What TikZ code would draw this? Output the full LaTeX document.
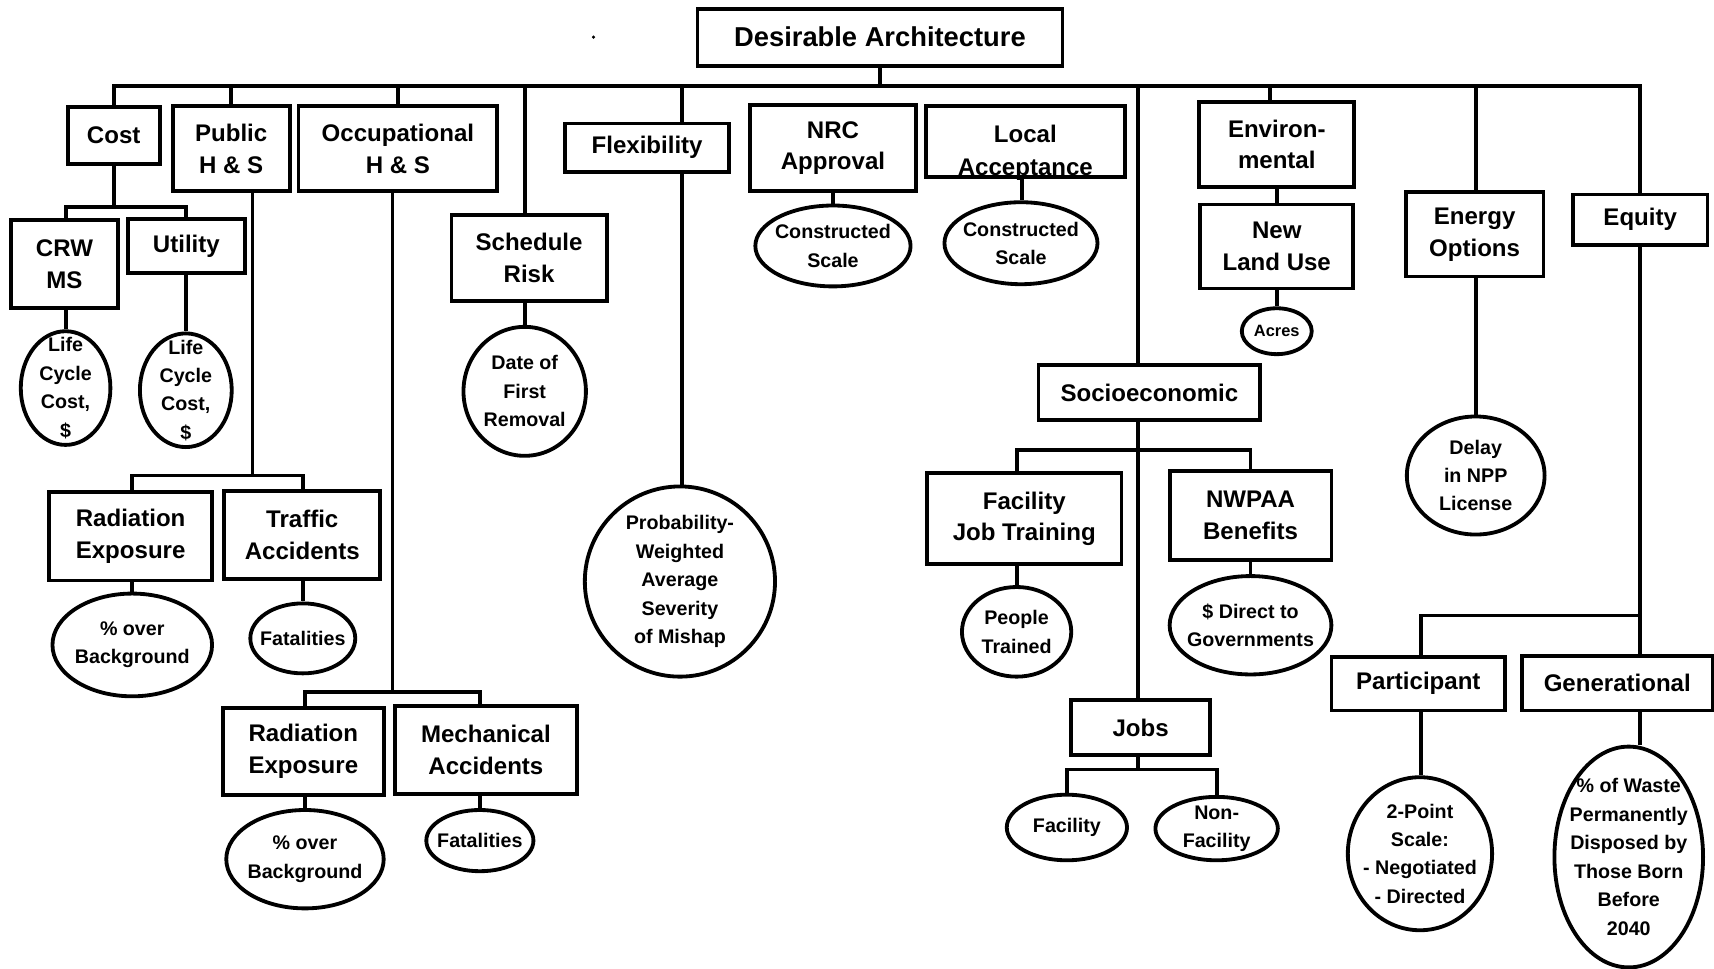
\documentclass[tikz,border=0pt]{standalone}
\usepackage{fontspec}
\setmainfont{Liberation Sans}
\usetikzlibrary{shapes.geometric}
\begin{document}
\begin{tikzpicture}[x=1pt,y=-1pt,
  ln/.style={line width=3.5pt},
  bx/.style={draw, line width=3.5pt, rectangle, inner sep=0pt, align=center, font=\bfseries\fontsize{22}{29}\selectfont},
  el/.style={draw, line width=3.5pt, ellipse, inner sep=0pt},
  et/.style={inner sep=0pt, align=center, font=\bfseries\fontsize{18}{26}\selectfont},
  txt/.style={inner sep=0pt, align=center, font=\bfseries\fontsize{22}{30}\selectfont}
]
\useasboundingbox (0,0) rectangle (1568,886);
\fill (543,34) circle (1.6);
% root
\node[bx, minimum width=334, minimum height=52, font=\bfseries\fontsize{25}{30}\selectfont] (root) at (805,34) {Desirable Architecture};
% level 1
\node[bx, minimum width=84, minimum height=52] (cost) at (104,124) {Cost};
\node[bx, minimum width=107, minimum height=78] (pub) at (211.5,136) {Public\\H \& S};
\node[bx, minimum width=182, minimum height=78] (occ) at (364,136) {Occupational\\H \& S};
\node[bx, minimum width=142, minimum height=78] (sched) at (484,236) {Schedule\\Risk};
\node[bx, minimum width=150, minimum height=44] (flex) at (592,135) {Flexibility};
\node[bx, minimum width=152, minimum height=79] (nrc) at (762,135.5) {NRC\\Approval};
\node[txt] (loctxt) at (938,140) {Local\\Acceptance};
\node[bx, minimum width=182, minimum height=65] (loc) at (938,129.5) {};
\node[bx, minimum width=142, minimum height=78] (env) at (1168,132) {Environ-\\mental};
\node[bx, minimum width=140, minimum height=77] (land) at (1168,225.5) {New\\Land Use};
\node[bx, minimum width=126, minimum height=77] (energy) at (1349,214.5) {Energy\\Options};
\node[bx, minimum width=123, minimum height=46] (equity) at (1500.5,201) {Equity};
\node[bx, minimum width=203, minimum height=50] (socio) at (1051.5,359) {Socioeconomic};
% cost subtree
\node[bx, minimum width=98, minimum height=81] (crw) at (59,241.5) {CRW\\MS};
\node[bx, minimum width=107, minimum height=50] (util) at (170.5,225) {Utility};
\node[el, minimum width=82, minimum height=104, label={[et]center:{Life\\Cycle\\Cost,\\\$}}] (lcc1) at (60,355) {};
\node[el, minimum width=84, minimum height=104, label={[et]center:{Life\\Cycle\\Cost,\\\$}}] (lcc2) at (170,357) {};
% public subtree
\node[bx, minimum width=149, minimum height=81] (rad1) at (119.5,490.5) {Radiation\\Exposure};
\node[bx, minimum width=143, minimum height=81] (traf) at (276.5,489.5) {Traffic\\Accidents};
\node[el, minimum width=146, minimum height=94, label={[et]center:{\% over\\Background}}] (bg1) at (121,590) {};
\node[el, minimum width=96, minimum height=64, label={[et]center:{Fatalities}}] (fat1) at (277,584) {};
% occupational subtree
\node[bx, minimum width=147, minimum height=79] (rad2) at (277.5,687.5) {Radiation\\Exposure};
\node[bx, minimum width=167, minimum height=80] (mech) at (444.5,686) {Mechanical\\Accidents};
\node[el, minimum width=144, minimum height=90, label={[et]center:{\% over\\Background}}] (bg2) at (279,786) {};
\node[el, minimum width=98, minimum height=56, label={[et]center:{Fatalities}}] (fat2) at (439,769) {};
% schedule, flexibility
\node[el, minimum width=112, minimum height=118, label={[et]center:{Date of\\First\\Removal}}] (date) at (480,358) {};
\node[el, minimum width=174, minimum height=174, label={[et]center:{Probability-\\Weighted\\Average\\Severity\\of Mishap}}] (prob) at (622,532) {};
% NRC, local
\node[el, minimum width=142, minimum height=74, label={[et]center:{Constructed\\Scale}}] (nrcS) at (762,225) {};
\node[el, minimum width=140, minimum height=75, label={[et]center:{Constructed\\Scale}}] (locS) at (934,222.5) {};
% environmental
\node[el, minimum width=64, minimum height=42, label={[et, font=\bfseries\fontsize{15}{20}\selectfont]center:{Acres}}] (acres) at (1168,303) {};
% energy
\node[el, minimum width=126, minimum height=108, label={[et]center:{Delay\\in NPP\\License}}] (delay) at (1350,435) {};
% socioeconomic subtree
\node[bx, minimum width=178, minimum height=83] (fjt) at (937,474.5) {Facility\\Job Training};
\node[bx, minimum width=148, minimum height=81] (nwpaa) at (1144,471.5) {NWPAA\\Benefits};
\node[el, minimum width=100, minimum height=82, label={[et]center:{People\\Trained}}] (people) at (930,578) {};
\node[el, minimum width=148, minimum height=90, label={[et]center:{\$ Direct to\\Governments}}] (dollars) at (1144,572) {};
\node[bx, minimum width=127, minimum height=51] (jobs) at (1043.5,665.5) {Jobs};
\node[el, minimum width=110, minimum height=60, label={[et]center:{Facility}}] (fac) at (976,757) {};
\node[el, minimum width=112, minimum height=58, label={[et]center:{Non-\\Facility}}] (nonfac) at (1113,758) {};
% equity subtree
\node[bx, minimum width=159, minimum height=49] (part) at (1297.5,625.5) {Participant};
\node[bx, minimum width=175, minimum height=50] (gen) at (1479.5,625) {Generational};
\node[el, minimum width=132, minimum height=140, label={[et]center:{2-Point\\Scale:\\- Negotiated\\- Directed}}] (pscale) at (1299,781) {};
\node[el, minimum width=136, minimum height=202, label={[et]center:{\% of Waste\\Permanently\\Disposed by\\Those Born\\Before\\2040}}] (waste) at (1490,784) {};

% ---- connectors
\coordinate (bL) at (104,79);
\coordinate (bR) at (1500,79);
\draw[ln] (cost.north) -- (bL) -- (bR) -- (bR |- equity.north);
\draw[ln] (root.south) -- (root.south |- bL);
\draw[ln] (pub.north) -- (pub.north |- bL);
\draw[ln] (occ.north) -- (occ.north |- bL);
\coordinate (dS) at (480,79);
\draw[ln] (dS) -- (dS |- sched.north);
\draw[ln] (dS |- sched.south) -- (dS |- date.north);
\coordinate (dF) at (624,79);
\draw[ln] (dF) -- (dF |- flex.north);
\draw[ln] (dF |- flex.south) -- (dF |- prob.north);
\coordinate (dSo) at (1041,79);
\draw[ln] (dSo) -- (dSo |- socio.north);
\draw[ln] (dSo |- socio.south) -- (dSo |- jobs.north);
\coordinate (dE) at (1162,79);
\draw[ln] (dE) -- (dE |- env.north);
\draw[ln] (env.south) -- (land.north);
\draw[ln] (land.south) -- (acres.north);
\coordinate (dEn) at (1350,79);
\draw[ln] (dEn) -- (dEn |- energy.north);
\draw[ln] (dEn |- energy.south) -- (delay.north);
% NRC, local
\draw[ln] (nrc.south) -- (nrcS.north);
\coordinate (lD) at (935,0);
\draw[ln] (lD |- loc.south) -- (lD |- locS.north);
% cost subtree
\coordinate (cL) at (60,189);
\coordinate (cR) at (170,189);
\draw[ln] (cost.south) -- (cost.south |- cL);
\draw[ln] (cL |- crw.north) -- (cL) -- (cR) -- (cR |- util.north);
\draw[ln] (cL |- crw.south) -- (cL |- lcc1.north);
\draw[ln] (cR |- util.south) -- (cR |- lcc2.north);
% public subtree
\coordinate (pD) at (231,435);
\coordinate (pL) at (121,435);
\coordinate (pR) at (277,435);
\draw[ln] (pD |- pub.south) -- (pD);
\draw[ln] (pL |- rad1.north) -- (pL) -- (pR) -- (pR |- traf.north);
\draw[ln] (pL |- rad1.south) -- (pL |- bg1.north);
\draw[ln] (pR |- traf.south) -- (pR |- fat1.north);
% occupational subtree
\coordinate (oD) at (359,633);
\coordinate (oL) at (279,633);
\coordinate (oR) at (439,633);
\draw[ln] (oD |- occ.south) -- (oD);
\draw[ln] (oL |- rad2.north) -- (oL) -- (oR) -- (oR |- mech.north);
\draw[ln] (oL |- rad2.south) -- (oL |- bg2.north);
\draw[ln] (oR |- mech.south) -- (oR |- fat2.north);
% socioeconomic subtree
\coordinate (sL) at (930,412);
\coordinate (sR) at (1144,412);
\draw[ln] (sL |- fjt.north) -- (sL) -- (sR) -- (sR |- nwpaa.north);
\draw[ln] (sL |- fjt.south) -- (sL |- people.north);
\draw[ln] (nwpaa.south) -- (dollars.north);
\coordinate (jM) at (1041,704);
\coordinate (jL) at (976,704);
\coordinate (jR) at (1113,704);
\draw[ln] (jM |- jobs.south) -- (jM);
\draw[ln] (fac.north) -- (jL) -- (jR) -- (nonfac.north);
% equity subtree
\coordinate (qM) at (1500,563);
\coordinate (qL) at (1300,563);
\draw[ln] (qM |- equity.south) -- (qM);
\draw[ln] (qL |- part.north) -- (qL) -- (qM) -- (qM |- gen.north);
\draw[ln] (qL |- part.south) -- (qL |- pscale.north);
\draw[ln] (qM |- gen.south) -- (qM |- waste.north);
\end{tikzpicture}
\end{document}
